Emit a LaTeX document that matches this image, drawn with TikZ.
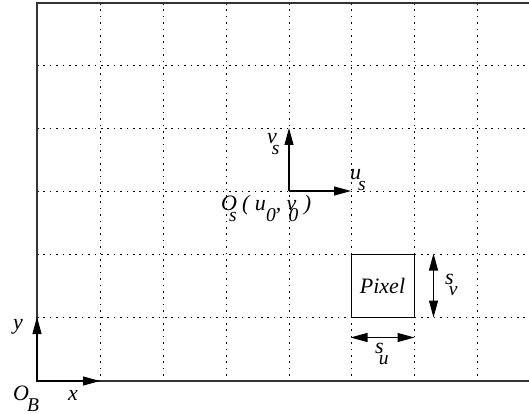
\documentclass[tikz,border=0pt]{standalone}
\usepackage{fontspec}
\setmainfont{Liberation Serif}
\usetikzlibrary{arrows.meta}
\newcommand\subl[2][-1pt]{\kern#1\raisebox{-11pt}{\fontsize{19.5}{20}\selectfont #2}}
\begin{document}
\begin{tikzpicture}[x=1pt,y=-1pt,
  gridline/.style={line width=1pt, dash pattern=on 1.6pt off 4.8pt, black},
  framel/.style={line width=1.2pt, black!80},
  tip/.tip={Triangle[length=17pt,width=9pt]},
  axis/.style={line width=1.1pt, -tip},
  dbl/.style={line width=1.1pt, tip-tip},
  lab/.style={font=\fontsize{22}{24}\selectfont\itshape, inner sep=0pt, anchor=base west}]
\useasboundingbox (0,0) rectangle (529,414);
\foreach \x in {100,163,226,289,351,414,477} \draw[gridline] (\x,3) -- (\x,381);
\foreach \y in {66,129,191,254,317} \draw[gridline] (37,\y) -- (529,\y);
\draw[framel] (529,3) -- (37,3) -- (37,381) -- (529,381);
\coordinate (OB) at (37,381);
\coordinate (xend) at (100,381);
\coordinate (yend) at (37,317);
\draw[axis] (OB) -- (xend);
\draw[axis] (OB) -- (yend);
\coordinate (OS) at (289,191);
\coordinate (usend) at (351,191);
\coordinate (vsend) at (289,128);
\draw[axis] (OS) -- (usend);
\draw[axis] (OS) -- (vsend);
\node[draw, line width=1pt, minimum width=63pt, minimum height=63pt, inner sep=0pt] (pixel) at (382.5,285.5) {\fontsize{22}{24}\selectfont\itshape Pixel};
\coordinate (sv1) at ([xshift=19pt]pixel.north east);
\coordinate (sv2) at ([xshift=19pt]pixel.south east);
\coordinate (su1) at ([yshift=-20pt]pixel.south west);
\coordinate (su2) at ([yshift=-20pt]pixel.south east);
\draw[dbl] (sv1) -- (sv2);
\draw[dbl] (su1) -- (su2);
\node[lab] (lOB) at (13,400) {O\subl[-2pt]{B}};
\node[lab] (lx) at (68,400) {x};
\node[lab] (ly) at (13,329) {y};
\node[lab] (lvs) at (267,143) {v\subl[-5pt]{s}};
\node[lab] (lus) at (350,179) {u\subl[-3pt]{s}};
\node[lab] (lOs) at (221,210) {O\subl[-8pt]{s} ( u\subl[0pt]{0}, v\subl[-8pt]{0} )};
\node[lab] (lsu) at (375,353) {s\subl[-5pt]{u}};
\node[lab] (lsv) at (445,284) {s\subl[-5pt]{v}};
\end{tikzpicture}
\end{document}
